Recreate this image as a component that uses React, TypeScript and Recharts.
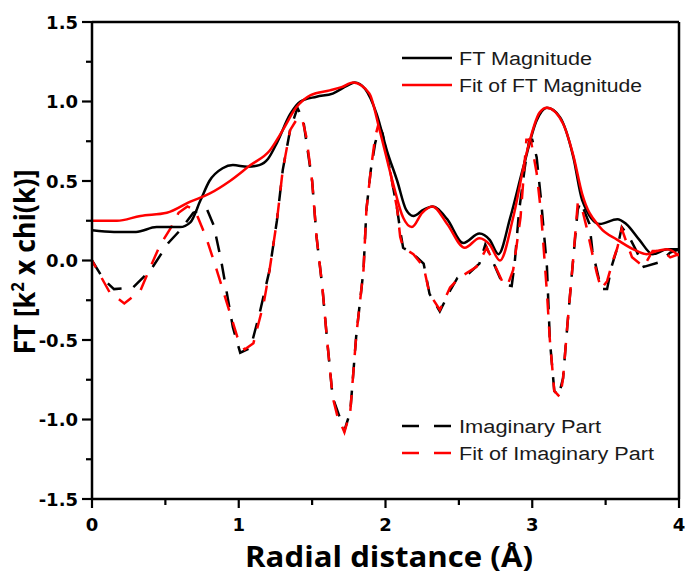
import React from 'react';
import { LineChart, Line, XAxis, YAxis, ReferenceLine } from 'recharts';

type P = [number, number];

// FT magnitude (black solid)
const ftMagnitude: P[] = [
  [0, 0.19], [0.15, 0.18], [0.3, 0.18], [0.44, 0.21], [0.6, 0.21], [0.67, 0.24], [0.74, 0.38],
  [0.8, 0.5], [0.89, 0.58], [0.96, 0.6], [1.06, 0.59], [1.14, 0.6], [1.2, 0.64], [1.26, 0.74],
  [1.35, 0.92], [1.42, 1.0], [1.53, 1.03], [1.64, 1.05], [1.74, 1.1], [1.79, 1.12], [1.86, 1.08],
  [1.94, 0.92], [2.01, 0.69], [2.08, 0.5], [2.14, 0.32], [2.19, 0.28], [2.26, 0.32], [2.32, 0.34],
  [2.42, 0.26], [2.53, 0.11], [2.64, 0.17], [2.71, 0.13], [2.77, 0.04], [2.85, 0.27], [2.94, 0.59],
  [3.03, 0.88], [3.1, 0.96], [3.19, 0.9], [3.28, 0.65], [3.34, 0.38], [3.46, 0.23], [3.58, 0.26],
  [3.64, 0.23], [3.73, 0.13], [3.82, 0.04], [3.92, 0.07], [4.0, 0.07],
];

// Fit of FT magnitude (red solid)
const fitMagnitude: P[] = [
  [0, 0.25], [0.17, 0.25], [0.33, 0.28], [0.51, 0.3], [0.67, 0.37], [0.8, 0.42], [0.94, 0.5],
  [1.08, 0.6], [1.21, 0.69], [1.3, 0.82], [1.39, 0.96], [1.49, 1.04], [1.62, 1.07], [1.7, 1.09],
  [1.78, 1.12], [1.89, 1.05], [1.96, 0.82], [2.05, 0.49], [2.12, 0.27], [2.18, 0.21], [2.25, 0.3],
  [2.32, 0.34], [2.42, 0.23], [2.54, 0.08], [2.64, 0.14], [2.71, 0.1], [2.78, 0.0], [2.87, 0.27],
  [2.96, 0.67], [3.05, 0.93], [3.1, 0.96], [3.21, 0.86], [3.28, 0.66], [3.34, 0.42], [3.46, 0.21],
  [3.58, 0.13], [3.69, 0.07], [3.78, 0.04], [3.85, 0.06], [3.92, 0.07], [4.0, 0.03],
];

// Imaginary part (black dashed)
const imaginaryPart: P[] = [
  [0, 0], [0.08, -0.12], [0.15, -0.18], [0.28, -0.17], [0.4, -0.06], [0.52, 0.11], [0.61, 0.2],
  [0.69, 0.3], [0.78, 0.33], [0.83, 0.22], [0.88, 0.0], [0.92, -0.21], [0.96, -0.42], [1.01, -0.58],
  [1.08, -0.55], [1.14, -0.34], [1.21, -0.06], [1.26, 0.25], [1.3, 0.57], [1.35, 0.82], [1.4, 0.96],
  [1.44, 0.88], [1.5, 0.5], [1.53, 0.15], [1.57, -0.17], [1.6, -0.48], [1.64, -0.86], [1.72, -1.07],
  [1.76, -0.95], [1.8, -0.48], [1.85, -0.06], [1.87, 0.32], [1.9, 0.57], [1.93, 0.74], [1.96, 0.84],
  [1.98, 0.8], [2.03, 0.57], [2.08, 0.32], [2.1, 0.19], [2.12, 0.08], [2.19, 0.04], [2.26, -0.02],
  [2.3, -0.21], [2.37, -0.32], [2.44, -0.19], [2.49, -0.11], [2.57, -0.08], [2.64, -0.02], [2.68, 0.1],
  [2.8, -0.15], [2.86, -0.16], [2.88, -0.02], [2.91, 0.31], [2.95, 0.59], [2.98, 0.76], [3.0, 0.76],
  [3.03, 0.65], [3.06, 0.38], [3.1, -0.04], [3.12, -0.5], [3.15, -0.82], [3.18, -0.85], [3.21, -0.74],
  [3.24, -0.4], [3.28, 0.02], [3.31, 0.32], [3.33, 0.37], [3.39, 0.23], [3.41, 0.06], [3.44, -0.06],
  [3.47, -0.18], [3.51, -0.18], [3.54, -0.04], [3.58, 0.08], [3.61, 0.21], [3.66, 0.15], [3.71, 0.06],
  [3.76, -0.04], [3.87, -0.01], [3.94, 0.05], [4.0, 0.07],
];

// Fit of imaginary part (red dashed)
const fitImaginaryPart: P[] = [
  [0, 0], [0.12, -0.2], [0.22, -0.27], [0.33, -0.19], [0.38, -0.08], [0.46, 0.09], [0.54, 0.21],
  [0.59, 0.3], [0.65, 0.34], [0.7, 0.32], [0.78, 0.14], [0.85, -0.06], [0.92, -0.27], [0.99, -0.48],
  [1.04, -0.56], [1.1, -0.52], [1.17, -0.27], [1.21, -0.06], [1.26, 0.25], [1.3, 0.57], [1.35, 0.82],
  [1.39, 0.88], [1.43, 0.9], [1.46, 0.78], [1.5, 0.5], [1.53, 0.15], [1.57, -0.17], [1.6, -0.48],
  [1.64, -0.86], [1.67, -0.97], [1.72, -1.08], [1.76, -0.95], [1.8, -0.48], [1.85, -0.06], [1.87, 0.32],
  [1.9, 0.57], [1.93, 0.78], [1.95, 0.85], [1.98, 0.8], [2.03, 0.57], [2.08, 0.32], [2.1, 0.15],
  [2.12, 0.08], [2.19, 0.04], [2.26, -0.04], [2.3, -0.21], [2.37, -0.31], [2.44, -0.17], [2.5, -0.11],
  [2.62, -0.04], [2.69, 0.08], [2.8, -0.14], [2.83, -0.16], [2.87, -0.06], [2.92, 0.27], [2.96, 0.76],
  [2.99, 0.76], [3.03, 0.55], [3.06, 0.3], [3.1, -0.2], [3.12, -0.5], [3.15, -0.82], [3.19, -0.86],
  [3.21, -0.74], [3.24, -0.4], [3.28, 0.02], [3.31, 0.36], [3.33, 0.36], [3.37, 0.21], [3.41, 0.04],
  [3.44, -0.08], [3.47, -0.18], [3.51, -0.13], [3.55, 0.0], [3.58, 0.08], [3.61, 0.2], [3.64, 0.12],
  [3.68, 0.02], [3.76, -0.04], [3.82, 0.06], [3.89, 0.06], [3.94, 0.02], [4.0, 0.04],
];

const xTicks = [0, 0.5, 1, 1.5, 2, 2.5, 3, 3.5, 4];
const yTicks = [-1.5, -1.25, -1, -0.75, -0.5, -0.25, 0, 0.25, 0.5, 0.75, 1, 1.25, 1.5];

const seriesNames = ['FT Magnitude', 'Fit of FT Magnitude', 'Imaginary Part', 'Fit of Imaginary Part'];
const xTitle = 'Radial distance (Å)';

const BLACK = '#000000';
const RED = '#ff0000';
const W = 685;
const H = 574;
const TICK_FONT = '"DejaVu Sans", Verdana, sans-serif';
const LEG_FONT = '"Liberation Sans", Arial, sans-serif';
const TITLE_FONT = '"Open Sans", "DejaVu Sans", sans-serif';

const toRows = (pts: P[]) => pts.map(([x, y]) => ({ x, y }));

const isMajorY = (v: number) => Math.abs(v * 2 - Math.round(v * 2)) < 1e-6;
const isMajorX = (v: number) => Math.abs(v - Math.round(v)) < 1e-6;

function YTick(props: any) {
  const { x, y, payload } = props;
  const v = payload.value as number;
  const major = isMajorY(v);
  return (
    <g>
      <line x1={x} x2={x - (major ? 10 : 6)} y1={y} y2={y} stroke={BLACK} strokeWidth={2.2} />
      {major && (
        <text x={x - 14} y={y} textAnchor="end" dominantBaseline="central" fontFamily={TICK_FONT}
          fontWeight="bold" fontSize={18} fill={BLACK}>
          {v.toFixed(1)}
        </text>
      )}
    </g>
  );
}

function XTick(props: any) {
  const { x, y, payload } = props;
  const v = payload.value as number;
  const major = isMajorX(v);
  return (
    <g>
      <line x1={x} x2={x} y1={y} y2={y + (major ? 9 : 6)} stroke={BLACK} strokeWidth={2.2} />
      {major && (
        <text x={x} y={y + 32} textAnchor="middle" fontFamily={TICK_FONT}
          fontWeight="bold" fontSize={18} fill={BLACK}>
          {String(v)}
        </text>
      )}
    </g>
  );
}

function LegendRow({ y, color, dashed, label, width }: { y: number; color: string; dashed: boolean; label: string; width: number }) {
  return (
    <g>
      <line x1={402} x2={452} y1={y} y2={y} stroke={color} strokeWidth={2.5}
        strokeDasharray={dashed ? '17 15' : undefined} />
      <text x={459} y={y + 7} fontFamily={LEG_FONT} fontSize={18} fill="#1a1a1a"
        textLength={width} lengthAdjust="spacingAndGlyphs">
        {label}
      </text>
    </g>
  );
}

export default function App() {
  return (
    <div style={{ position: 'absolute', left: 0, top: 0, width: W, height: H, background: '#fff' }}>
      <LineChart width={W} height={H} margin={{ top: 22, right: 6, bottom: 0, left: 0 }}>
        <XAxis type="number" dataKey="x" domain={[0, 4]} ticks={xTicks} interval={0} allowDataOverflow
          height={75} tickSize={0} tickMargin={0} tickLine={false}
          axisLine={{ stroke: BLACK, strokeWidth: 2.5 }} tick={(p: any) => <XTick {...p} />} />
        <YAxis type="number" domain={[-1.5, 1.5]} ticks={yTicks} interval={0} allowDataOverflow
          width={92} tickSize={0} tickMargin={0} tickLine={false}
          axisLine={{ stroke: BLACK, strokeWidth: 2.5 }} tick={(p: any) => <YTick {...p} />} />
        <ReferenceLine y={1.5} stroke={BLACK} strokeWidth={2.5} />
        <ReferenceLine x={4} stroke={BLACK} strokeWidth={2.5} />
        <Line data={toRows(imaginaryPart)} dataKey="y" name={seriesNames[2]} type="linear" stroke={BLACK}
          strokeWidth={2.5} strokeDasharray="16 12" dot={false} isAnimationActive={false} />
        <Line data={toRows(fitImaginaryPart)} dataKey="y" name={seriesNames[3]} type="linear" stroke={RED}
          strokeWidth={2.5} strokeDasharray="16 12" strokeDashoffset={8} dot={false} isAnimationActive={false} />
        <Line data={toRows(ftMagnitude)} dataKey="y" name={seriesNames[0]} type="monotone" stroke={BLACK}
          strokeWidth={2.5} dot={false} isAnimationActive={false} />
        <Line data={toRows(fitMagnitude)} dataKey="y" name={seriesNames[1]} type="monotone" stroke={RED}
          strokeWidth={2.5} dot={false} isAnimationActive={false} />
      </LineChart>
      <svg width={W} height={H} style={{ position: 'absolute', left: 0, top: 0, pointerEvents: 'none' }}>
        <LegendRow y={58} color={BLACK} dashed={false} label={seriesNames[0]} width={133} />
        <LegendRow y={85} color={RED} dashed={false} label={seriesNames[1]} width={183} />
        <LegendRow y={426} color={BLACK} dashed={true} label={seriesNames[2]} width={142} />
        <LegendRow y={453} color={RED} dashed={true} label={seriesNames[3]} width={195} />
        <text x={389} y={567} textAnchor="middle" fontFamily={TITLE_FONT} fontWeight="bold" fontSize={29}
          fill={BLACK} textLength={288} lengthAdjust="spacingAndGlyphs">
          {xTitle}
        </text>
        <text transform="translate(35 262) rotate(-90)" textAnchor="middle" fontFamily={TITLE_FONT}
          fontWeight="bold" fontSize={29} fill={BLACK} textLength={185} lengthAdjust="spacingAndGlyphs">
          <tspan>FT [k</tspan>
          <tspan dy={-11} fontSize={18}>2</tspan>
          <tspan dy={11}> x chi(k)]</tspan>
        </text>
      </svg>
    </div>
  );
}
